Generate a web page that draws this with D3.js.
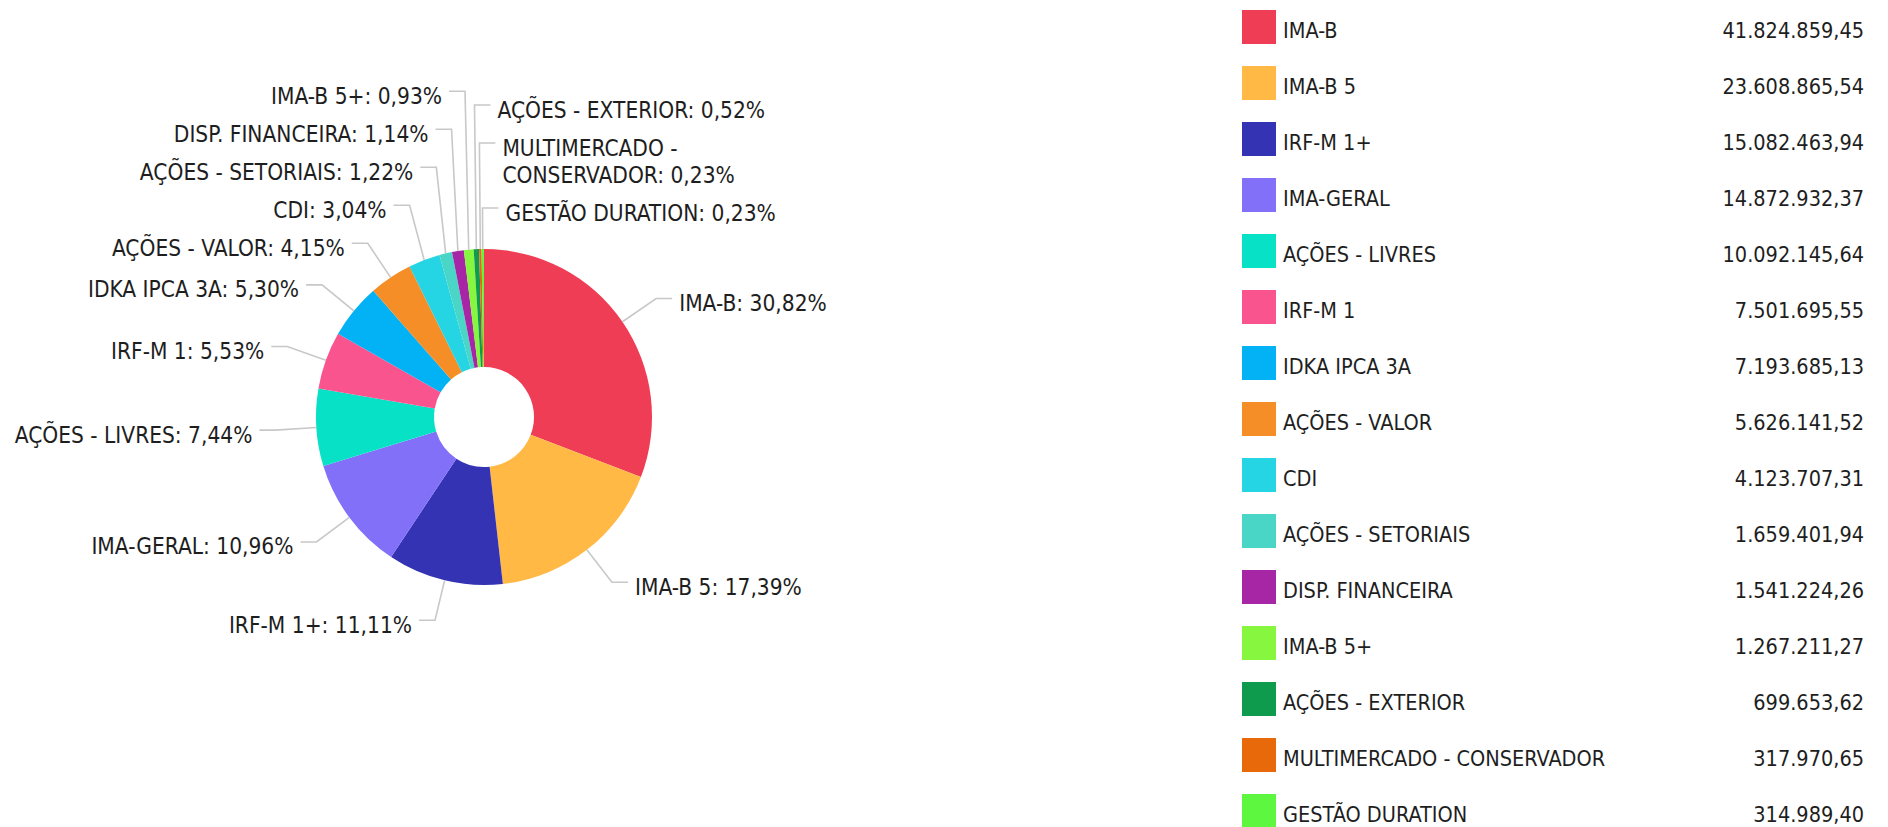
<!DOCTYPE html>
<meta charset="UTF-8">
<style>
    body { margin: 0; background: #fff; }
    svg { display: block; font-family: "DejaVu Sans Condensed", "DejaVu Sans", sans-serif; }
</style>
<body>
<div id="chart"></div>
<script src="https://d3js.org/d3.v7.min.js"></script>
<script>

var categories = ["IMA-B", "IMA-B 5", "IRF-M 1+", "IMA-GERAL", "AÇÕES - LIVRES", "IRF-M 1",
    "IDKA IPCA 3A", "AÇÕES - VALOR", "CDI", "AÇÕES - SETORIAIS", "DISP. FINANCEIRA",
    "IMA-B 5+", "AÇÕES - EXTERIOR", "MULTIMERCADO - CONSERVADOR", "GESTÃO DURATION"];
var values = [41824859.45, 23608865.54, 15082463.94, 14872932.37, 10092145.64, 7501695.55,
    7193685.13, 5626141.52, 4123707.31, 1659401.94, 1541224.26,
    1267211.27, 699653.62, 317970.65, 314989.40];
var colors = ["#ef3d55", "#ffb944", "#3333b3", "#8270f9", "#07e2c6", "#fa548f",
    "#02b2f4", "#f68e27", "#25d5e4", "#4ad6c6", "#a726a6",
    "#86f63f", "#0e9b4e", "#e8690a", "#5ef740"];

// layout
var width = 1888, height = 827;
var cx = 484, cy = 417, outerR = 168, innerR = 50;
var lineR = 209, hLen = 16, gap = 7;
var rowH = 38, lineH = 27, maxLabelW = 300;
var labelSize = 22.5, legendSize = 21.5;

var br = d3.formatLocale({decimal: ",", thousands: ".", grouping: [3], currency: ["R$ ", ""]});
var fmtVal = br.format(",.2f"),
    fmtPct = br.format(".2f");

var color = d3.scaleOrdinal(categories, colors);
var total = d3.sum(values);
var data = categories.map(function(c, i) { return {name: c, value: values[i]}; });

var svg = d3.select("#chart").append("svg")
    .attr("width", width)
    .attr("height", height);

// ---- pie ----
var g = svg.append("g")
    .attr("transform", "translate(" + cx + "," + cy + ")");

var pie = d3.pie().sort(null).value(function(d) { return d.value; });
var arc = d3.arc().innerRadius(innerR).outerRadius(outerR);
var arcs = pie(data);

g.selectAll("path.slice")
    .data(arcs)
  .enter().append("path")
    .attr("class", "slice")
    .attr("d", arc)
    .attr("fill", function(d) { return color(d.data.name); });

// measure text for wrapping
var probe = svg.append("text").attr("font-size", labelSize);
function textW(s) { probe.text(s); return probe.node().getComputedTextLength(); }
function wrap(s) {
    var words = s.split(" "), lines = [], cur = "";
    words.forEach(function(w) {
        var t = cur ? cur + " " + w : w;
        if (cur && textW(t) > maxLabelW) { lines.push(cur); cur = w; }
        else cur = t;
    });
    lines.push(cur);
    return lines;
}

arcs.forEach(function(d) {
    var a = (d.startAngle + d.endAngle) / 2;
    d.a = a;
    d.signed = a > Math.PI ? a - 2 * Math.PI : a;
    d.right = Math.sin(a) > -0.06;
    d.ex = Math.sin(a) * outerR;
    d.ey = -Math.cos(a) * outerR;
    d.bx = Math.sin(a) * lineR;
    d.y = -Math.cos(a) * lineR;
    d.lines = wrap(d.data.name + ": " + fmtPct(d.data.value / total * 100) + "%");
    d.h = rowH + (d.lines.length - 1) * lineH;
});
probe.remove();

// push overlapping labels upward, side by side
var rightSide = arcs.filter(function(d) { return d.right; })
    .sort(function(a, b) { return a.signed - b.signed; });
var leftSide = arcs.filter(function(d) { return !d.right; })
    .sort(function(a, b) { return b.a - a.a; });
[rightSide, leftSide].forEach(function(list) {
    for (var i = list.length - 2; i >= 0; i--) {
        list[i].y = Math.min(list[i].y, list[i + 1].y - list[i].h);
    }
});

var labels = g.selectAll("g.label")
    .data(arcs)
  .enter().append("g")
    .attr("class", "label");

labels.append("polyline")
    .attr("fill", "none")
    .attr("stroke", "#c8c8c8")
    .attr("stroke-width", 1.6)
    .attr("points", function(d) {
        var s = d.right ? 1 : -1;
        return [[d.ex, d.ey], [d.bx, d.y], [d.bx + s * hLen, d.y]].join(" ");
    });

labels.append("text")
    .attr("font-size", labelSize)
    .attr("fill", "#1e1e1e")
    .attr("text-anchor", function(d) { return d.right ? "start" : "end"; })
    .each(function(d) {
        var s = d.right ? 1 : -1;
        var t = d3.select(this);
        d.lines.forEach(function(line, k) {
            t.append("tspan")
                .attr("x", d.bx + s * (hLen + gap))
                .attr("y", d.y + 12.5 + k * lineH)
                .text(line);
        });
    });

// ---- legend ----
var ly = d3.scalePoint().domain(categories).range([10, 794]);

var legend = svg.append("g").attr("class", "legend");
var rows = legend.selectAll("g.row")
    .data(data)
  .enter().append("g")
    .attr("class", "row")
    .attr("transform", function(d) { return "translate(0," + ly(d.name) + ")"; });

rows.append("rect")
    .attr("x", 1242)
    .attr("width", 34)
    .attr("height", 34)
    .attr("fill", function(d) { return color(d.name); });

rows.append("text")
    .attr("x", 1283)
    .attr("y", 27.5)
    .attr("font-size", legendSize)
    .attr("fill", "#1e1e1e")
    .text(function(d) { return d.name; });

rows.append("text")
    .attr("x", 1864)
    .attr("y", 27.5)
    .attr("font-size", legendSize)
    .attr("fill", "#1e1e1e")
    .attr("text-anchor", "end")
    .text(function(d) { return fmtVal(d.value); });

</script>
</body>
